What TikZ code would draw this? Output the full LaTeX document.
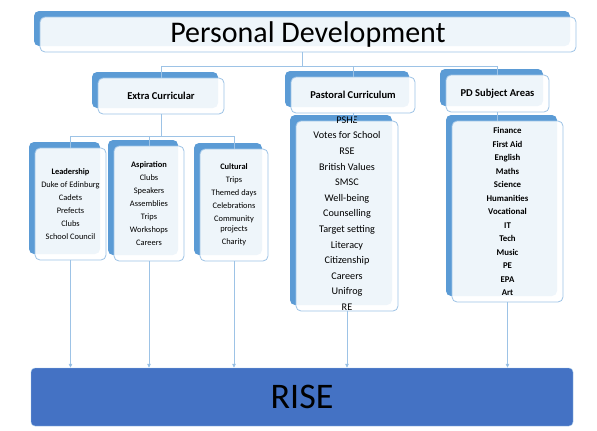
\documentclass[tikz,border=0pt]{standalone}
\usepackage{fontspec}
\setmainfont{Carlito}
\usetikzlibrary{positioning, arrows.meta, shadows}
\definecolor{shadeblue}{RGB}{91,155,213}
\definecolor{edgeblue}{RGB}{157,195,230}
\definecolor{riseblue}{RGB}{68,114,196}

\begin{document}
\begin{tikzpicture}[x=1pt, y=-1pt,
  card/.style={draw=edgeblue, line width=0.8pt, rounded corners=5pt, fill=white,
               fill opacity=0.9, text opacity=1, align=center, inner sep=0pt,
               general shadow={fill=shadeblue, fill opacity=1, shadow xshift=-6pt, shadow yshift=6pt}},
  head/.style={minimum width=126pt, minimum height=36pt, font=\fontsize{10.5}{13}\selectfont\bfseries},
  group/.style={minimum height=112pt, font=\fontsize{8.4}{13}\selectfont},
  link/.style={draw=edgeblue, line width=0.8pt},
  arrow/.style={link, -{Triangle[length=4pt, width=3.5pt, fill=shadeblue]}}
]
  \useasboundingbox (0,0) rectangle (597,431);

  \node[card, minimum width=536pt, minimum height=35pt, font=\fontsize{30}{36}\selectfont]
    (pd-top) at (308,34.5) {Personal Development};

  \node[card, head] (extra) at (161,96) {Extra Curricular};
  \node[card, head, minimum width=124pt] (pastoral) at (353,95) {Pastoral Curriculum};
  \node[card, head, minimum width=103pt, minimum height=37pt] (subjects) at (497.5,93.5) {PD Subject Areas};

  \node[card, group, minimum width=71pt] (leader) at (70.5,204)
    {\textbf{Leadership}\\Duke of Edinburg\\Cadets\\Prefects\\Clubs\\School Council};
  \node[card, group, minimum width=70pt, minimum height=115pt] (aspire) at (149,203.5)
    {\textbf{Aspiration}\\Clubs\\Speakers\\Assemblies\\Trips\\Workshops\\Careers};
  \node[card, group, minimum width=68pt] (culture) at (234,205)
    {\textbf{Cultural}\\Trips\\Themed days\\Celebrations\\Community\\[-3pt]projects\\Charity};

  \node[card, minimum width=102pt, minimum height=190pt] (pastoral-list) at (347,216) {};
  \node[font=\fontsize{10.2}{15.6}\selectfont, align=center, inner sep=0pt]
    (pastoral-items) at ([yshift=2.5pt]pastoral-list.center)
    {PSHE\\Votes for School\\RSE\\British Values\\SMSC\\Well-being\\Counselling\\
     Target setting\\Literacy\\Citizenship\\Careers\\Unifrog\\RE};

  \node[card, minimum width=111pt, minimum height=181pt, font=\fontsize{8.8}{13.5}\selectfont\bfseries]
    (subjects-list) at (507.5,211.5)
    {Finance\\First Aid\\English\\Maths\\Science\\Humanities\\Vocational\\IT\\Tech\\Music\\PE\\EPA\\Art};

  \node[draw=edgeblue, fill=riseblue, rounded corners=4pt, minimum width=542pt, minimum height=58pt,
        font=\fontsize{36}{40}\selectfont] (rise) at (302,397) {RISE};

  \coordinate (bus-top) at (302,66);
  \coordinate (bus-extra) at (161,136);
  \draw[link] (bus-top |- pd-top.south) -- (bus-top);
  \foreach \n in {extra, pastoral, subjects}
    \draw[link] (bus-top) -| (\n.north);
  \draw[link] (extra.south) -- (bus-extra);
  \foreach \n in {leader, aspire, culture}
    \draw[link] (bus-extra) -| (\n.north);
  \draw[link] (pastoral.south) -- (pastoral.south |- pastoral-list.north);
  \draw[link] (subjects.south) -- (subjects.south |- subjects-list.north);
  \foreach \n in {leader, aspire, culture, pastoral-list, subjects-list}
    \draw[arrow] (\n.south) -- (\n.south |- rise.north);
\end{tikzpicture}
\end{document}
